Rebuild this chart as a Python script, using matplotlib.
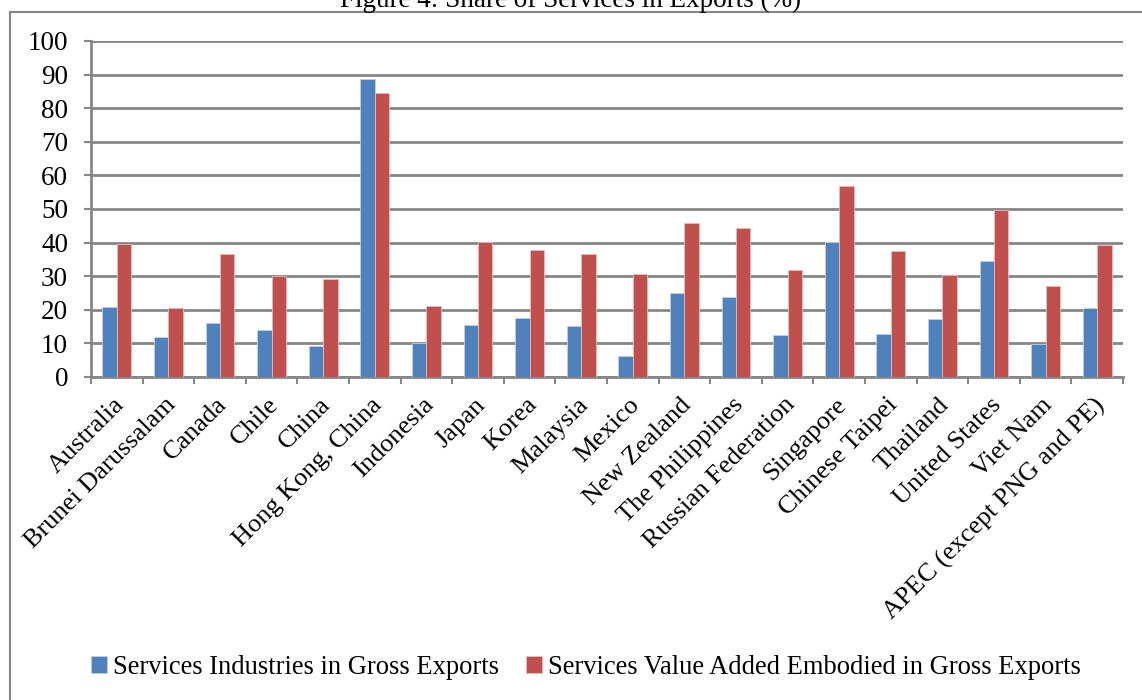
""" Share of services in exports """
import numpy as np
import matplotlib.pyplot as plt
from matplotlib.patches import Rectangle
from matplotlib.transforms import ScaledTranslation

economies = ["Australia", "Brunei Darussalam", "Canada", "Chile", "China",
             "Hong Kong, China", "Indonesia", "Japan", "Korea", "Malaysia",
             "Mexico", "New Zealand", "The Philippines", "Russian Federation",
             "Singapore", "Chinese Taipei", "Thailand", "United States",
             "Viet Nam", "APEC (except PNG and PE)"]
services_industries = [20.7, 12.0, 16.0, 14.0, 9.3, 88.7, 10.0, 15.5, 17.5, 15.3,
                       6.3, 24.9, 23.7, 12.4, 40.2, 12.7, 17.2, 34.5, 9.8, 20.5]
services_value_added = [39.6, 20.5, 36.7, 30.2, 29.3, 84.5, 21.2, 40.3, 37.9, 36.7,
                        30.6, 45.9, 44.2, 31.8, 56.7, 37.4, 30.3, 49.7, 27.1, 39.2]

plt.rcParams['font.family'] = ['Liberation Serif', 'DejaVu Serif']
grey = "#868686"
fs = 19.5

fig = plt.figure(figsize=(11.42, 7.0), dpi=100)
ax = fig.add_axes([91/1142, 1-377/700, (1123-91)/1142, (377-41)/700])

x = np.arange(len(economies))
w = 0.28
ax.bar(x - w/2, services_industries, w, color="#4F81BD", edgecolor="#BFD0E6", linewidth=0.6,
       label="Services Industries in Gross Exports", zorder=3)
ax.bar(x + w/2, services_value_added, w, color="#C0504D", edgecolor="#E8BDBC", linewidth=0.6,
       label="Services Value Added Embodied in Gross Exports", zorder=3)

ax.set_xlim(-0.5, len(economies) - 0.5)
ax.set_ylim(0, 100)
ax.set_yticks(range(0, 101, 10))
ax.yaxis.grid(True, color=grey, linewidth=2, zorder=0)
ax.tick_params(axis='y', labelsize=fs, length=5, width=1.5, color=grey, pad=11.5)

# category ticks sit between the groups, labels at group centres
ax.set_xticks(np.arange(-0.5, len(economies)), minor=False)
ax.set_xticklabels([])
ax.set_xticks(x, minor=True)
ax.set_xticklabels(economies, minor=True, rotation=45, ha='right', rotation_mode='anchor', fontsize=19)
ax.tick_params(axis='x', which='major', length=5, width=1.5, color=grey)
ax.tick_params(axis='x', which='minor', length=0, pad=12)
shift = ScaledTranslation(-3/72, 0, fig.dpi_scale_trans)
for lab in ax.get_xticklabels(minor=True):
    lab.set_transform(lab.get_transform() + shift)

for s in ["top", "right"]:
    ax.spines[s].set_visible(False)
for s in ["left", "bottom"]:
    ax.spines[s].set_color(grey)
    ax.spines[s].set_linewidth(2)

fig.text(0.5, 1 - 7/700, "Figure 4: Share of Services in Exports (%)", ha='center', va='baseline', fontsize=fs)
fig.patches.append(Rectangle((10/1142, -0.1), 1.2, 1 - 12/700 + 0.1, transform=fig.transFigure,
                             fill=False, edgecolor=grey, linewidth=1.5))

fig.legend(loc='center', bbox_to_anchor=(586/1142, 1-667/700), ncol=2, frameon=False, fontsize=19.1,
           handlelength=0.6, handleheight=0.6, handletextpad=0.25, columnspacing=1.0)

fig.savefig("out.png", dpi=100)
